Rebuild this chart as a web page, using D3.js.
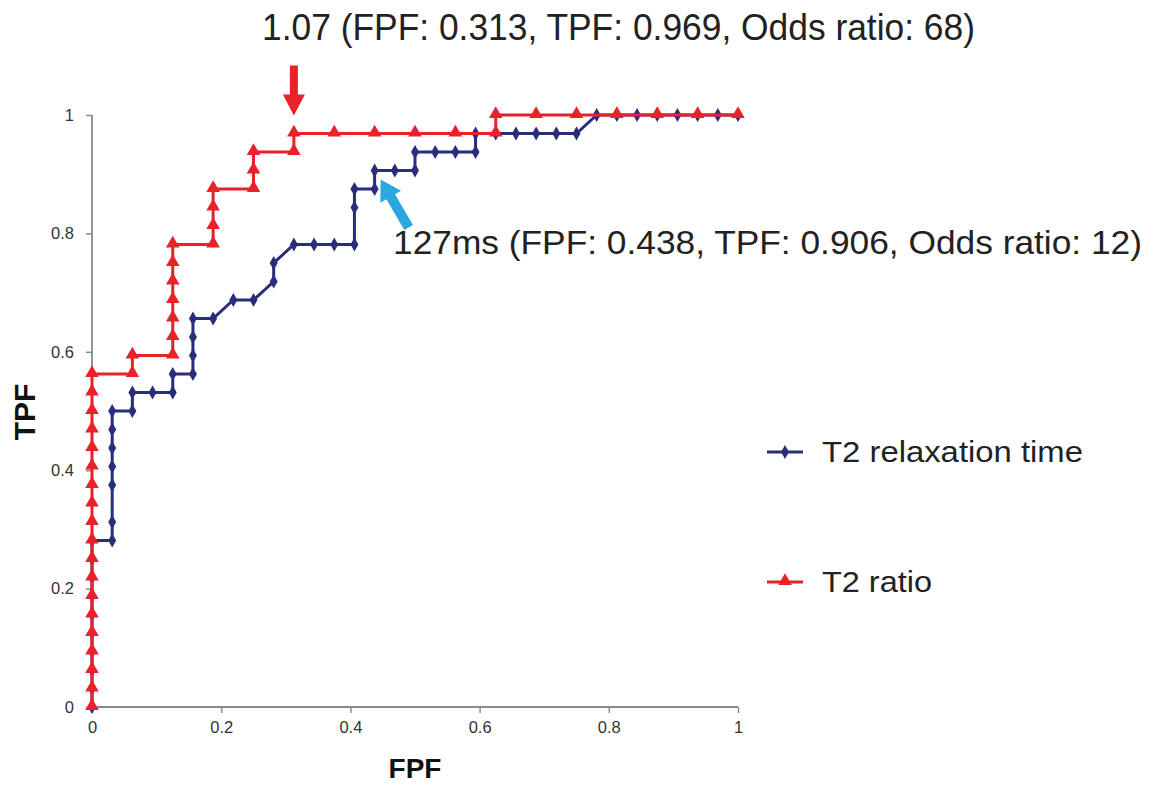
<!DOCTYPE html>
<html>
<head>
<meta charset="utf-8">
<script src="https://cdn.jsdelivr.net/npm/d3@7"></script>
<style>
  html, body { margin: 0; padding: 0; background: #fff; }
  svg { display: block; }
</style>
</head>
<body>
<svg id="chart" width="1161" height="785"></svg>
<script>
// ---- data (ROC points) ----
const xTicks = [0, 0.2, 0.4, 0.6, 0.8, 1];
const yTicks = [0, 0.2, 0.4, 0.6, 0.8, 1];
const xTickLabels = ["0", "0.2", "0.4", "0.6", "0.8", "1"];
const yTickLabels = ["0", "0.2", "0.4", "0.6", "0.8", "1"];

const seriesNames = ["T2 relaxation time", "T2 ratio"];

const relaxFPF = [0,0,0,0,0,0,0,0,0,0,
  0.03125,0.03125,0.03125,0.03125,0.03125,0.03125,0.03125,
  0.0625,0.0625,0.09375,0.125,0.125,0.15625,0.15625,0.15625,0.15625,
  0.1875,0.21875,0.25,0.28125,0.28125,0.3125,0.34375,0.375,0.40625,0.40625,0.40625,
  0.4375,0.4375,0.46875,0.5,0.5,0.53125,0.5625,0.59375,0.59375,
  0.625,0.65625,0.6875,0.71875,0.75,0.78125,0.8125,0.84375,0.875,0.90625,0.9375,0.96875,1];
const relaxTPF = [0,0.03125,0.0625,0.09375,0.125,0.15625,0.1875,0.21875,0.25,0.28125,
  0.28125,0.3125,0.375,0.40625,0.4375,0.46875,0.5,
  0.5,0.53125,0.53125,0.53125,0.5625,0.5625,0.59375,0.625,0.65625,
  0.65625,0.6875,0.6875,0.71875,0.75,0.78125,0.78125,0.78125,0.78125,0.84375,0.875,
  0.875,0.90625,0.90625,0.90625,0.9375,0.9375,0.9375,0.9375,0.96875,
  0.96875,0.96875,0.96875,0.96875,0.96875,1,1,1,1,1,1,1,1];

const ratioFPF = [0,0,0,0,0,0,0,0,0,0,0,0,0,0,0,0,0,0,0,
  0.0625,0.0625,0.125,0.125,0.125,0.125,0.125,0.125,0.125,
  0.1875,0.1875,0.1875,0.1875,0.25,0.25,0.25,0.3125,0.3125,
  0.375,0.4375,0.5,0.5625,0.625,0.625,0.6875,0.75,0.8125,0.875,0.9375,1];
const ratioTPF = [0,0.03125,0.0625,0.09375,0.125,0.15625,0.1875,0.21875,0.25,0.28125,
  0.3125,0.34375,0.375,0.40625,0.4375,0.46875,0.5,0.53125,0.5625,
  0.5625,0.59375,0.59375,0.625,0.65625,0.6875,0.71875,0.75,0.78125,
  0.78125,0.8125,0.84375,0.875,0.875,0.90625,0.9375,0.9375,0.96875,
  0.96875,0.96875,0.96875,0.96875,0.96875,1,1,1,1,1,1,1];

const titleText = "1.07 (FPF: 0.313, TPF: 0.969, Odds ratio: 68)";
const calloutText = "127ms (FPF: 0.438, TPF: 0.906, Odds ratio: 12)";
const ratioCut = [0.3125, 0.96875];
const relaxCut = [0.4375, 0.90625];

// ---- drawing ----
const svg = d3.select("#chart");
const x = d3.scaleLinear().domain([0, 1]).range([92, 738]);
const y = d3.scaleLinear().domain([0, 1]).range([707, 115]);

const BLUE = "#2a2c7c", RED = "#e8212b", AXIS = "#8a8a8a", ARROWBLUE = "#2aa7df";
const FONT = "'Liberation Sans', Arial, sans-serif";

// axes
const xAxis = d3.axisBottom(x).tickValues(xTicks).tickFormat((d, i) => xTickLabels[i]).tickSize(6).tickPadding(8);
const yAxis = d3.axisLeft(y).tickValues(yTicks).tickFormat((d, i) => yTickLabels[i]).tickSize(6).tickPadding(12);

const gx = svg.append("g").attr("transform", `translate(0,${y(0)})`).call(xAxis);
const gy = svg.append("g").attr("transform", `translate(${x(0)},0)`).call(yAxis);
[gx, gy].forEach(g => {
  g.attr("font-size", null).attr("font-family", null);
  g.select(".domain").attr("stroke", AXIS).attr("stroke-width", 1.8);
  g.selectAll(".tick line").attr("stroke", AXIS).attr("stroke-width", 1.5);
  g.selectAll(".tick text").attr("fill", "#333")
    .style("font-size", "16.5px").style("font-family", FONT);
});
gx.select(".domain").attr("d", `M${x(0)},0H${x(1)}`);
gy.select(".domain").attr("d", `M0,${y(0)}V${y(1)}`);

// axis titles
svg.append("text").attr("x", 415).attr("y", 778).attr("text-anchor", "middle")
  .attr("font-family", FONT).attr("font-weight", "bold").attr("font-size", 28)
  .attr("fill", "#111").text("FPF");
svg.append("text").attr("transform", "translate(35,412) rotate(-90)").attr("text-anchor", "middle")
  .attr("font-family", FONT).attr("font-weight", "bold").attr("font-size", 30)
  .attr("fill", "#111").text("TPF");

const line = d3.line().x(d => x(d[0])).y(d => y(d[1]));
const relaxPts = relaxFPF.map((v, i) => [v, relaxTPF[i]]);
const ratioPts = ratioFPF.map((v, i) => [v, ratioTPF[i]]);

const diamond = d3.symbol().type(d3.symbolDiamond).size(55);
const triangle = d3.symbol().type(d3.symbolTriangle).size(80);

// blue series
svg.append("path").datum(relaxPts).attr("d", line).attr("fill", "none")
  .attr("stroke", BLUE).attr("stroke-width", 3);
svg.append("g").selectAll("path").data(relaxPts).join("path")
  .attr("d", diamond).attr("transform", d => `translate(${x(d[0])},${y(d[1])})`).attr("fill", BLUE);

// red series
svg.append("path").datum(ratioPts).attr("d", line).attr("fill", "none")
  .attr("stroke", RED).attr("stroke-width", 3);
svg.append("g").selectAll("path").data(ratioPts).join("path")
  .attr("d", triangle).attr("transform", d => `translate(${x(d[0])},${y(d[1]) - 1})`).attr("fill", RED);

// red arrow (points down to the T2 ratio cut-off)
{
  const tx = x(ratioCut[0]), ty = y(ratioCut[1]) - 18;
  svg.append("path")
    .attr("d", `M${tx - 4},${ty - 50} H${tx + 4} V${ty - 21} H${tx + 11} L${tx},${ty} L${tx - 11},${ty - 21} H${tx - 4} Z`)
    .attr("fill", RED);
}
// blue arrow (points up-left to the relaxation-time cut-off)
{
  const tx = x(relaxCut[0]) + 6, ty = y(relaxCut[1]) + 9;
  const tailX = tx + 28, tailY = ty + 48;
  const ang = Math.atan2(tailY - ty, tailX - tx);
  const len = Math.hypot(tailX - tx, tailY - ty);
  const g = svg.append("g").attr("transform", `translate(${tx},${ty}) rotate(${ang * 180 / Math.PI})`);
  g.append("path")
    .attr("d", `M0,0 L20,-12 L20,-5 L${len},-5 L${len},5 L20,5 L20,12 Z`)
    .attr("fill", ARROWBLUE);
}

// annotations
svg.append("text").attr("x", 262).attr("y", 40).attr("font-family", FONT).attr("font-size", 36)
  .attr("fill", "#222").attr("textLength", 713).attr("lengthAdjust", "spacingAndGlyphs").text(titleText);
svg.append("text").attr("x", 393).attr("y", 254).attr("font-family", FONT).attr("font-size", 33)
  .attr("fill", "#222").attr("textLength", 749).attr("lengthAdjust", "spacingAndGlyphs").text(calloutText);

// legend
const legend = [
  { name: seriesNames[0], color: BLUE, sym: diamond, y: 452, w: 261 },
  { name: seriesNames[1], color: RED, sym: triangle, y: 582, w: 110 }
];
legend.forEach(L => {
  svg.append("line").attr("x1", 767).attr("x2", 803).attr("y1", L.y).attr("y2", L.y)
    .attr("stroke", L.color).attr("stroke-width", 3);
  svg.append("path").attr("d", L.sym).attr("transform", `translate(785,${L.y - (L.color === RED ? 1 : 0)})`).attr("fill", L.color);
  svg.append("text").attr("x", 822).attr("y", L.y + 10).attr("font-family", FONT).attr("font-size", 29)
    .attr("fill", "#222").attr("textLength", L.w).attr("lengthAdjust", "spacingAndGlyphs").text(L.name);
});
</script>
</body>
</html>
